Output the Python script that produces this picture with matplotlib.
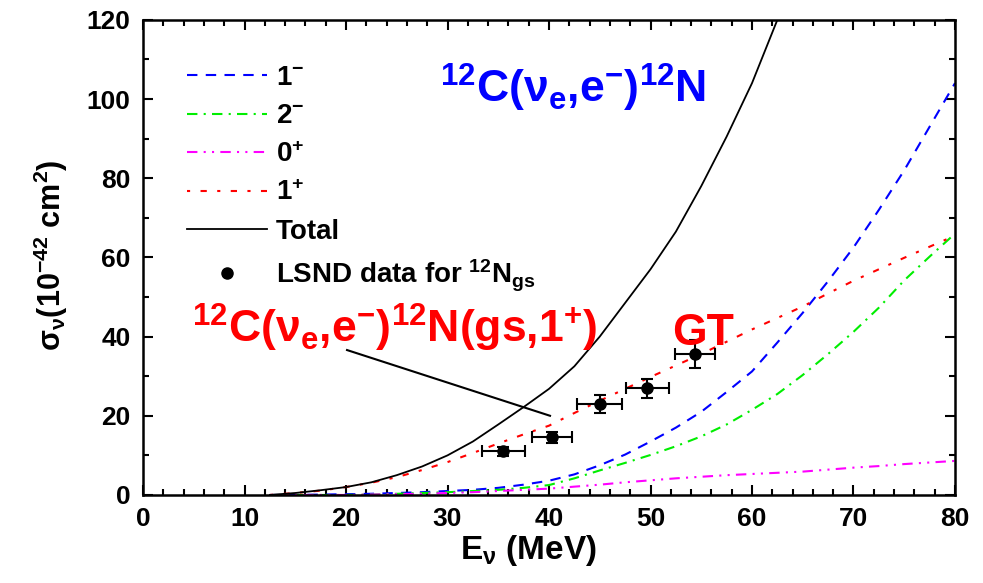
import numpy as np
import matplotlib
matplotlib.use('Agg')
import matplotlib.pyplot as plt

plt.rcParams['font.family'] = ['Liberation Sans', 'DejaVu Sans']
plt.rcParams['font.weight'] = 'bold'
plt.rcParams['mathtext.default'] = 'regular'

# neutrino energy grid (MeV)
energy = [12.5, 15, 17.5, 20, 22.5, 25, 27.5, 30, 32.5, 35, 37.5, 40, 42.5, 45,
          47.5, 50, 52.5, 55, 57.5, 60, 62.5, 65, 67.5, 70, 72.5, 75, 77.5, 80]
# partial cross sections (10^-42 cm^2)
sig_1minus = [0, 0, 0.1, 0.2, 0.3, 0.5, 0.7, 1.0, 1.3, 1.8, 2.6, 3.6, 5.2, 7.5,
              10.2, 13.5, 17, 21, 26, 31.2, 38.5, 46, 54, 62.5, 72, 82, 93, 104]
sig_2minus = [0, 0, 0, 0, 0.1, 0.3, 0.5, 0.7, 1.0, 1.3, 1.8, 2.5, 4.2, 6.2,
              8.1, 10.1, 12.3, 14.8, 17.8, 21.5, 25.5, 30.3, 35.6, 41.2, 47.3, 54.2, 60.2, 66]
sig_0plus = [0, 0, 0, 0, 0.1, 0.2, 0.3, 0.5, 0.7, 1.0, 1.3, 1.6, 2.1, 2.6,
             3.2, 3.7, 4.2, 4.6, 5.0, 5.3, 5.6, 5.9, 6.4, 6.9, 7.3, 7.8, 8.2, 8.6]
sig_1plus = [0, 0.5, 1.1, 2, 3.1, 4.5, 6.3, 8.3, 10.6, 13, 15.3, 17.5, 20.7, 23.8,
             26.8, 29.8, 32.7, 35.6, 38.7, 41.8, 44.7, 47.6, 50.9, 54.1, 57, 59.9, 62.7, 65.5]

energy_tot = [12.5, 15, 17.5, 20, 22.5, 25, 27.5, 30, 32.5, 35, 37.5, 40, 42.5,
              45, 47.5, 50, 52.5, 55, 57.5, 60, 62.5, 63]
sig_total = [0, 0.5, 1.2, 2, 3.2, 5, 7.2, 10, 13.5, 17.8, 22.2, 26.8, 32.5,
             40, 48.5, 57, 66.5, 78, 90.5, 104, 120, 124]

# LSND data for 12N ground state
lsnd_e = [35.5, 40.3, 45.0, 49.7, 54.4]
lsnd_sig = [11.0, 14.6, 23.0, 26.9, 35.6]
lsnd_xerr = [2.1, 2.0, 2.2, 2.1, 2.0]
lsnd_yerr = [1.2, 1.4, 2.3, 2.5, 3.6]

fig = plt.figure(figsize=(9.83, 5.83), dpi=100)
ax = fig.add_axes([0.1455, 0.151, 0.826, 0.815])

ax.plot(energy, sig_1minus, color='#0000ff', lw=1.5, ls=(0, (5, 4)), label='1$^{-}$')
ax.plot(energy, sig_2minus, color='#00ee00', lw=1.5, ls=(0, (5, 3, 1, 3)), label='2$^{-}$')
ax.plot(energy, sig_0plus, color='#ff00ff', lw=1.5, ls=(0, (5, 3, 1, 3, 1, 3)), label='0$^{+}$')
ax.plot(energy, sig_1plus, color='#ff0000', lw=1.5, ls=(0, (1.5, 5, 3, 5)), label='1$^{+}$')
ax.plot(energy_tot, sig_total, color='black', lw=1.3, label='Total')
ax.errorbar(lsnd_e, lsnd_sig, xerr=lsnd_xerr, yerr=lsnd_yerr, fmt='none', ecolor='black',
            elinewidth=1.5, capsize=4, capthick=1.5)
ax.plot(lsnd_e, lsnd_sig, 'o', color='black', ms=8, ls='none',
        label='LSND data for $^{12}$N$_{gs}$')

ax.set_xlim(0, 80)
ax.set_ylim(0, 120)
ax.set_xticks(np.arange(0, 81, 10))
ax.set_yticks(np.arange(0, 121, 20))
ax.set_xticks(np.arange(0, 81, 2), minor=True)
ax.set_yticks(np.arange(0, 121, 10), minor=True)
ax.tick_params(which='both', direction='in', top=True, right=True, width=1.5, labelsize=19)
ax.tick_params(which='major', length=7, pad=9)
ax.tick_params(which='minor', length=4)
for s in ax.spines.values():
    s.set_linewidth(1.8)

ax.set_xlabel('E$_{\\nu}$ (MeV)', fontsize=24, fontweight='bold')
ax.xaxis.set_label_coords(0.475, -0.08)
ax.set_ylabel('$\\sigma_{\\nu}$(10$^{-42}$ cm$^{2}$)', fontsize=22, fontweight='bold')
ax.yaxis.set_label_coords(-0.09, 0.505)

ax.legend(loc='upper left', bbox_to_anchor=(0.054, 0.905), frameon=False, fontsize=20,
          handlelength=2.9, handletextpad=0.3, labelspacing=0.45, borderpad=0,
          borderaxespad=0)

ax.text(29.3, 99, '$^{12}$C(ν$_{e}$,e$^{-}$)$^{12}$N', color='#0000ff', fontsize=32,
        fontweight='bold')
ax.text(4.8, 38.4, '$^{12}$C(ν$_{e}$,e$^{-}$)$^{12}$N(gs,1$^{+}$)', color='#ff0000',
        fontsize=32, fontweight='bold')
ax.text(52.1, 37.9, 'GT', color='#ff0000', fontsize=32, fontweight='bold')
ax.plot([20.1, 40.1], [36.6, 20.0], color='black', lw=1.5)

fig.savefig('out.png', dpi=100)
